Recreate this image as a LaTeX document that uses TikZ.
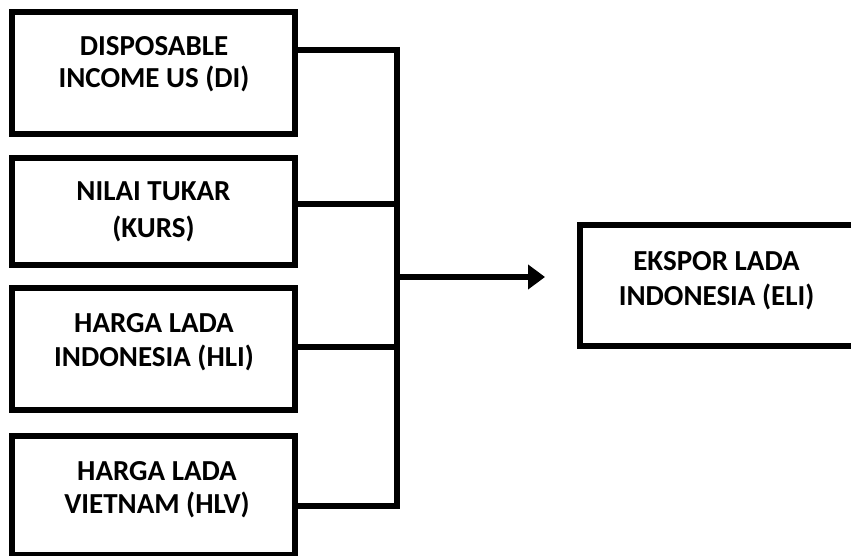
\documentclass[tikz,border=0pt]{standalone}
\usepackage{fontspec}
\setmainfont{Carlito}
\usetikzlibrary{arrows.meta}
\begin{document}
\begin{tikzpicture}[x=1pt,y=-1pt,
  box/.style={draw=black,line width=6pt,rectangle,inner sep=0pt,minimum width=283pt},
  lbl/.style={align=center,font=\bfseries\fontsize{29}{34}\selectfont,inner sep=0pt},
  conn/.style={line width=5.5pt,line cap=butt}]
\useasboundingbox (0,0) rectangle (851,556);
\clip (0,0) rectangle (851,556);
% boxes
\node[box,minimum height=122pt] (b1) at (153.5,73) {};
\node[box,minimum height=107pt] (b2) at (153.5,211.5) {};
\node[box,minimum height=122pt] (b3) at (153.5,349) {};
\node[box,minimum height=119pt] (b4) at (153.5,495.5) {};
\node[box,minimum width=290pt,minimum height=121pt] (out) at (725,285.5) {};
% labels
\node[lbl,font=\bfseries\fontsize{29}{32}\selectfont] (t1) at (154,64.2) {DISPOSABLE\\INCOME US (DI)};
\node[lbl,font=\bfseries\fontsize{29}{37}\selectfont] (t2) at (153.5,211.7) {NILAI TUKAR\\(KURS)};
\node[lbl] (t3) at (154,342) {HARGA LADA\\INDONESIA (HLI)};
\node[lbl,font=\bfseries\fontsize{29}{33}\selectfont] (t4) at (157,490) {HARGA LADA\\VIETNAM (HLV)};
\node[lbl,font=\bfseries\fontsize{29}{35}\selectfont] (t5) at (716.5,280.8) {EKSPOR LADA\\INDONESIA (ELI)};
% bus
\coordinate (j1) at (397,50);
\coordinate (j2) at (397,204);
\coordinate (j3) at (397,347);
\coordinate (j4) at (397,506);
\coordinate (jm) at (397,277);
\coordinate (tip) at (545,277);
\draw[conn] (397,47) coordinate (bustop) -- (397,509) coordinate (busbot);
\draw[conn] (j1 -| b1.east) -- ([xshift=2.75pt]j1);
\draw[conn] (j2 -| b2.east) -- ([xshift=2.75pt]j2);
\draw[conn] (j3 -| b3.east) -- ([xshift=2.75pt]j3);
\draw[conn] (j4 -| b4.east) -- ([xshift=2.75pt]j4);
\draw[conn,-{Triangle[length=17pt,width=24pt]}] (jm) -- (tip);
\end{tikzpicture}
\end{document}
